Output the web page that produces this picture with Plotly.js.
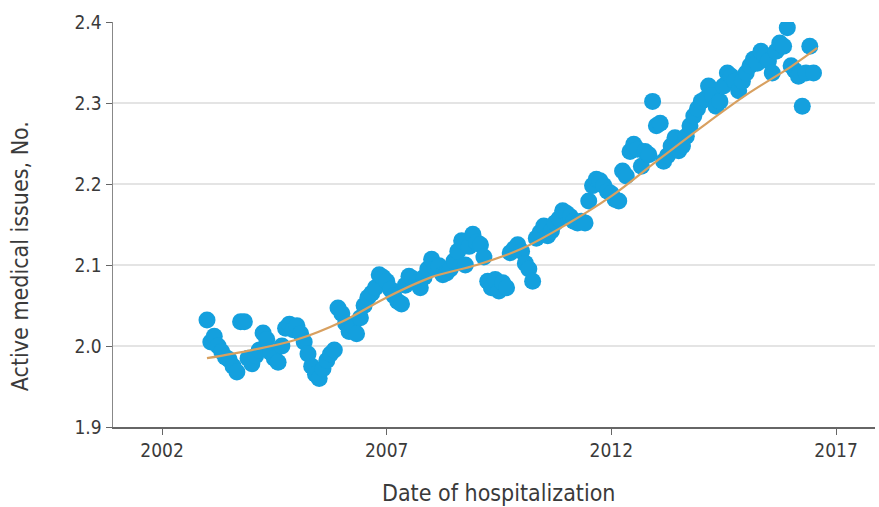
<!DOCTYPE html>
<html>
<head>
<meta charset="utf-8">
<script src="https://cdn.plot.ly/plotly-3.0.1.min.js"></script>
<style>
  html, body { margin: 0; padding: 0; background: #fff; }
  #chart { width: 879px; height: 507px; }
</style>
</head>
<body>
<div id="chart"></div>
<script>
// Monthly mean number of active medical issues per hospitalization, Jan 2003 onward
const firstMonth = { year: 2003, month: 1 };
const monthlyMeans = [
  // 2003
  2.032, 2.005, 2.012, 2.000, 1.993, 1.986, 1.983, 1.975, 1.968, 2.030, 2.030, 1.985,
  // 2004
  1.978, 1.988, 1.995, 2.016, 2.008, 1.992, 1.985, 1.980, 2.000, 2.022, 2.027, 2.020,
  // 2005
  2.025, 2.015, 2.005, 1.990, 1.975, 1.965, 1.960, 1.972, 1.982, 1.990, 1.995, 2.047,
  // 2006
  2.040, 2.028, 2.018, 2.025, 2.015, 2.035, 2.050, 2.060, 2.065, 2.072, 2.088, 2.085,
  // 2007
  2.080, 2.070, 2.062, 2.055, 2.052, 2.075, 2.086, 2.083, 2.078, 2.072, 2.085, 2.095,
  // 2008
  2.107, 2.096, 2.099, 2.088, 2.090, 2.095, 2.105, 2.117, 2.130, 2.100, 2.123, 2.138,
  // 2009
  2.128, 2.125, 2.110, 2.080, 2.072, 2.082, 2.068, 2.078, 2.072, 2.115, 2.120, 2.125,
  // 2010
  2.117, 2.102, 2.095, 2.080, 2.133, 2.140, 2.148, 2.136, 2.142, 2.152, 2.157, 2.167,
  // 2011
  2.164, 2.160, 2.154, 2.152, 2.154, 2.152, 2.179, 2.198, 2.206, 2.204, 2.198, 2.191,
  // 2012
  2.188, 2.181, 2.179, 2.216, 2.210, 2.240, 2.249, 2.243, 2.222, 2.240, 2.236, 2.302,
  // 2013
  2.272, 2.275, 2.228, 2.235, 2.247, 2.257, 2.241, 2.247, 2.259, 2.272, 2.284, 2.293,
  // 2014
  2.302, 2.305, 2.321, 2.309, 2.296, 2.302, 2.321, 2.337, 2.333, 2.327, 2.315, 2.327,
  // 2015
  2.337, 2.346, 2.354, 2.349, 2.364, 2.358, 2.352, 2.337, 2.364, 2.374, 2.370, 2.393,
  // 2016
  2.346, 2.340, 2.333, 2.296, 2.337, 2.370, 2.337
];

// Smoothed trend through the monthly series
const trendDates  = ['2003-01-01', '2004-01-01', '2005-01-01', '2006-01-01', '2007-01-01',
                     '2008-01-01', '2009-01-01', '2010-01-01', '2011-01-01', '2012-01-01',
                     '2013-01-01', '2014-01-01', '2015-01-01', '2016-01-01', '2016-08-01'];
const trendValues = [1.985, 1.995, 2.008, 2.030, 2.060, 2.085, 2.100, 2.120, 2.150, 2.185,
                     2.228, 2.270, 2.310, 2.345, 2.368];

const tickDates  = ['2002-01-01', '2007-01-01', '2012-01-01', '2017-01-01'];
const tickLabels = ['2002', '2007', '2012', '2017'];
const yTicks     = [1.9, 2.0, 2.1, 2.2, 2.3, 2.4];
const yTickText  = ['1.9', '2.0', '2.1', '2.2', '2.3', '2.4'];

const xTitle = 'Date of hospitalization';
const yTitle = 'Active medical issues, No.';

// Month start dates for the monthly series
const monthDates = monthlyMeans.map((_, i) => {
  const m = firstMonth.month - 1 + i;
  const y = firstMonth.year + Math.floor(m / 12);
  const mm = String((m % 12) + 1).padStart(2, '0');
  return `${y}-${mm}-01`;
});

const FONT = '"DejaVu Sans Condensed", "DejaVu Sans", sans-serif';
const TEXT = '#3a3a3a';

const traces = [
  {
    type: 'scatter',
    mode: 'markers',
    x: monthDates,
    y: monthlyMeans,
    marker: { color: '#14a0de', size: 17, line: { width: 0 } },
    hoverinfo: 'x+y'
  },
  {
    type: 'scatter',
    mode: 'lines',
    x: trendDates,
    y: trendValues,
    line: { color: '#d8a060', width: 2.2, shape: 'spline', smoothing: 1 },
    hoverinfo: 'skip'
  }
];

const layout = {
  width: 879,
  height: 507,
  margin: { l: 113, r: 4, t: 22, b: 80 },
  paper_bgcolor: '#ffffff',
  plot_bgcolor: '#ffffff',
  showlegend: false,
  font: { family: FONT, size: 19, color: TEXT },
  xaxis: {
    type: 'date',
    range: ['2000-11-28', '2017-11-13'],
    tickmode: 'array',
    tickvals: tickDates,
    ticktext: tickLabels,
    ticks: 'outside',
    ticklen: 6,
    tickcolor: '#666666',
    showgrid: false,
    zeroline: false,
    showline: true,
    linecolor: '#666666',
    linewidth: 1.5,
    tickfont: { family: FONT, size: 19, color: TEXT }
  },
  yaxis: {
    range: [1.9, 2.4],
    tickmode: 'array',
    tickvals: yTicks,
    ticktext: yTickText,
    ticks: 'outside',
    ticklen: 6,
    tickcolor: '#666666',
    showgrid: true,
    gridcolor: '#e4e4e4',
    gridwidth: 1.5,
    zeroline: false,
    showline: true,
    linecolor: '#888888',
    linewidth: 1.5,
    tickfont: { family: FONT, size: 19, color: TEXT }
  },
  annotations: [
    {
      text: xTitle, xref: 'paper', yref: 'paper', x: 0.506, y: -0.163,
      xanchor: 'center', yanchor: 'middle', showarrow: false,
      font: { family: FONT, size: 23, color: TEXT }
    },
    {
      text: yTitle, xref: 'paper', yref: 'paper', x: -0.122, y: 0.422,
      xanchor: 'center', yanchor: 'middle', showarrow: false, textangle: -90,
      font: { family: FONT, size: 23, color: TEXT }
    }
  ]
};

Plotly.newPlot('chart', traces, layout, { displayModeBar: false, staticPlot: true });
</script>
</body>
</html>
